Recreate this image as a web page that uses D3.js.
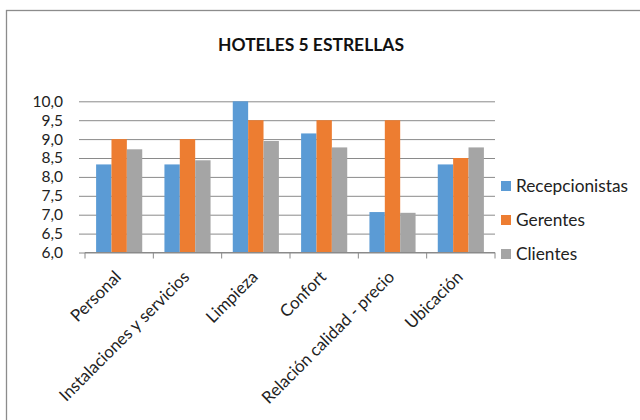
<!DOCTYPE html>
<html><head><meta charset="utf-8">
<script src="https://cdn.jsdelivr.net/npm/d3@7"></script>
<style>body{margin:0;background:#fff}svg{display:block}</style>
</head><body>
<svg id="c" width="640" height="420"></svg>
<script>
const categories = ["Personal","Instalaciones y servicios","Limpieza","Confort","Relación calidad - precio","Ubicación"];
const seriesNames = ["Recepcionistas","Gerentes","Clientes"];
const recepcionistas = [8.33, 8.33, 10.0, 9.15, 7.07, 8.33];
const gerentes = [9.0, 9.0, 9.5, 9.5, 9.5, 8.5];
const clientes = [8.73, 8.44, 8.95, 8.78, 7.05, 8.78];
const yTicks = [6.0,6.5,7.0,7.5,8.0,8.5,9.0,9.5,10.0];
const colors = ["#5B9BD5","#ED7D31","#A5A5A5"];
const title = "HOTELES 5 ESTRELLAS";

const series = [recepcionistas, gerentes, clientes];
const font = "Lato, 'Open Sans', sans-serif";
const svg = d3.select("#c");

// pick a font size so a sample string has a given width (fonts differ from the original)
function fitSize(text, target, base, weight) {
  const t = svg.append("text").attr("font-family",font).attr("font-size",base)
    .attr("font-weight",weight||"normal").text(text);
  const w = t.node().getComputedTextLength();
  t.remove();
  return w > 0 ? base*target/w : base;
}
const labelSize = fitSize("Instalaciones y servicios", 176, 16);
const legendSize = fitSize("Recepcionistas", 112, 16);
const titleSize = fitSize(title, 186, 18, "bold");
const tickSize = Math.min(fitSize("10,0", 33, 16), 15.5);

// chart border
svg.append("rect").attr("x",6.5).attr("y",10.5).attr("width",700).attr("height",500)
  .attr("fill","none").attr("stroke","#8c8c8c").attr("stroke-width",1.3);

const pL = 85, pR = 495, pT = 101.3, pB = 252.5;
const x0 = d3.scaleBand().domain(categories).range([pL,pR]).paddingInner(0.325).paddingOuter(0.1625);
const x1 = d3.scaleBand().domain(seriesNames).range([0,x0.bandwidth()]);
const y = d3.scaleLinear().domain([6,10]).range([pB,pT]);

// gridlines + y ticks
const gy = svg.append("g").attr("transform",`translate(${pL},0)`)
  .call(d3.axisLeft(y).tickValues(yTicks).tickSize(-(pR-pL)).tickSizeOuter(0)
    .tickFormat(d=>d3.format(".1f")(d).replace(".",",")).tickPadding(22));
gy.select(".domain").remove();
gy.selectAll(".tick line").attr("stroke","#8a8a8a").attr("x1",-6);
gy.selectAll(".tick text").attr("font-family",font).attr("font-size",tickSize).attr("fill","#222")
  .attr("x",-22);

// bars
const g = svg.append("g");
categories.forEach((c,i)=>{
  series.forEach((s,j)=>{
    g.append("rect").attr("x",x0(c)+x1(seriesNames[j])).attr("width",x1.bandwidth())
      .attr("y",y(s[i])).attr("height",pB-y(s[i])).attr("fill",colors[j]);
  });
});

// x axis
const step = (pR-pL)/categories.length;
const xa = svg.append("g").attr("transform",`translate(0,${pB})`);
xa.append("line").attr("x1",pL).attr("x2",pR).attr("stroke","#8a8a8a");
d3.range(categories.length+1).forEach(k=>{
  xa.append("line").attr("x1",pL+k*step).attr("x2",pL+k*step).attr("y1",0).attr("y2",6).attr("stroke","#8a8a8a");
});
categories.forEach(c=>{
  const cx = x0(c)+x0.bandwidth()/2;
  xa.append("text").attr("transform",`translate(${cx+3},${25.5}) rotate(-45)`)
    .attr("text-anchor","end").attr("font-family",font).attr("font-size",labelSize).attr("fill","#222")
    .text(c);
});

// title
svg.append("text").attr("x",311).attr("y",51).attr("text-anchor","middle")
  .attr("font-family",font).attr("font-weight","bold").attr("font-size",titleSize).attr("fill","#111").text(title);

// legend
const legY = [186,220,254];
seriesNames.forEach((n,j)=>{
  svg.append("rect").attr("x",501).attr("y",legY[j]-5).attr("width",10).attr("height",10).attr("fill",colors[j]);
  svg.append("text").attr("x",516).attr("y",legY[j]).attr("dy","0.35em")
    .attr("font-family",font).attr("font-size",legendSize).attr("fill","#222").text(n);
});
</script>
</body></html>
